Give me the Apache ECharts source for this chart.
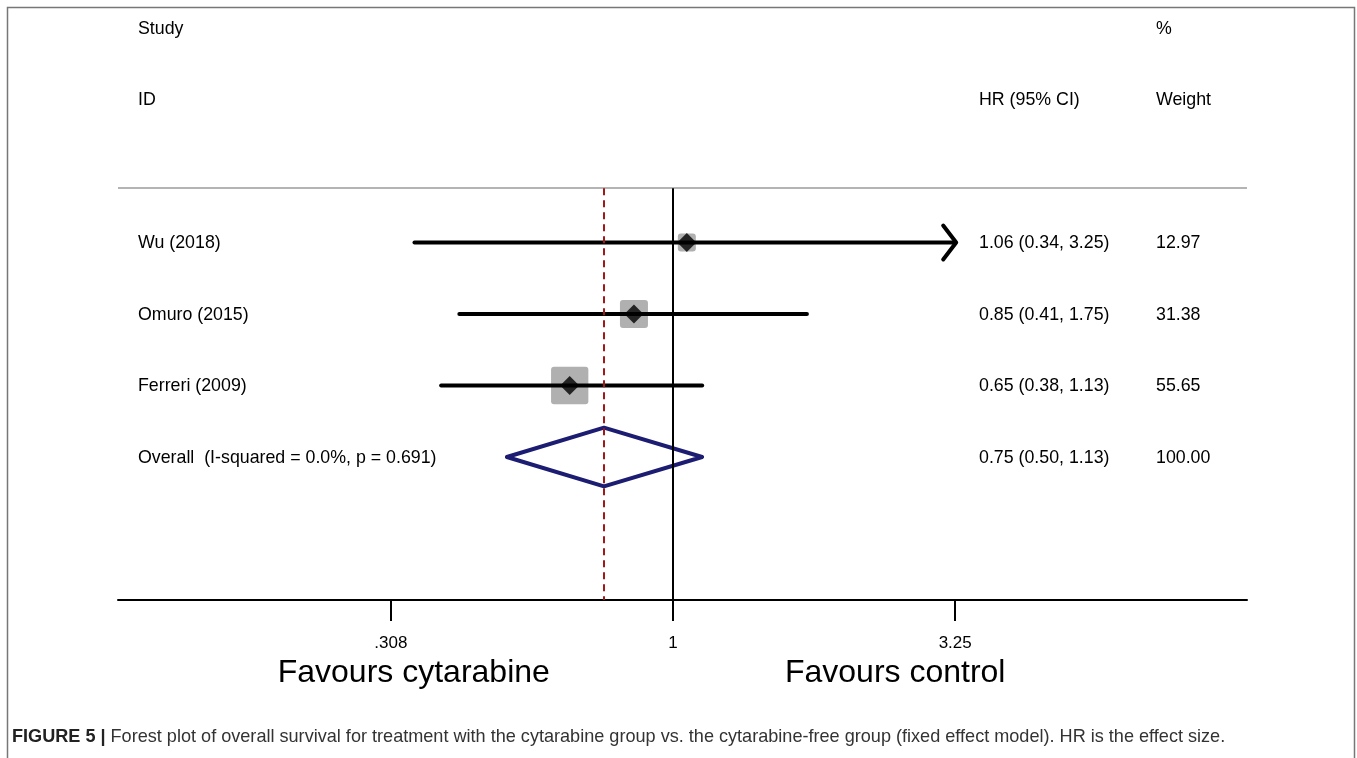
<!DOCTYPE html>
<html><head><meta charset="utf-8">
<script src="https://cdn.jsdelivr.net/npm/echarts@6/dist/echarts.min.js"></script>
<style>html,body{margin:0;padding:0;background:#fff}#c{width:1357px;height:758px}</style>
</head><body><div id="c"></div>
<script>
// ---- data ----
const studies = ['Wu (2018)', 'Omuro (2015)', 'Ferreri (2009)'];
const hr = [1.06, 0.85, 0.65];
const ciLow = [0.34, 0.41, 0.38];
const ciHigh = [3.25, 1.75, 1.13];
const weights = [12.97, 31.38, 55.65];
const overallLabel = 'Overall  (I-squared = 0.0%, p = 0.691)';
const overallHr = 0.75, overallLow = 0.50, overallHigh = 1.13, overallWeight = 100.00;
const tickValues = [0.308, 1, 3.25];
const tickLabels = ['.308', '1', '3.25'];
const axisRange = [0.0986, 10.99];
const favourLabels = ['Favours cytarabine', 'Favours control'];
const favourPos = [0.339, 2.53];
const caption = 'Forest plot of overall survival for treatment with the cytarabine group vs. the cytarabine-free group (fixed effect model). HR is the effect size.';

// ---- layout ----
const W = 1357, H = 758;
const grid = {left: 118, right: 110, top: 28, bottom: 158};
const nRows = 8, sepRow = 2.24;
const rowH = (H - grid.top - grid.bottom) / nRows;
const rowY = r => grid.top + r * rowH + 0.8;
const studyRows = [3, 4, 5], overallRow = 6;
const ln = Math.log;
const xMin = ln(axisRange[0]), xMax = ln(axisRange[1]);
const pxPerLn = (W - grid.left - grid.right) / (xMax - xMin);
const xPix = v => grid.left + (ln(v) - xMin) * pxPerLn;
const FONT = '"Liberation Sans", Arial, sans-serif';
const clipHigh = Math.max(...tickValues);

const fmt = (a, b, c) => a.toFixed(2) + ' (' + b.toFixed(2) + ', ' + c.toFixed(2) + ')';

const texts = [];
function txt(x, y, s, extra) {
  texts.push(Object.assign({type: 'text', x: x, y: y,
    style: {text: s, font: '17.8px ' + FONT, fill: '#000', verticalAlign: 'middle', align: 'left'}}, extra || {}));
}
const colStudy = 138, colHr = 979, colW = 1156;
txt(colStudy, rowY(0), 'Study');
txt(colStudy, rowY(1), 'ID');
txt(colW, rowY(0), '%');
txt(colHr, rowY(1), 'HR (95% CI)');
txt(colW, rowY(1), 'Weight');
studies.forEach((s, i) => {
  txt(colStudy, rowY(studyRows[i]), s);
  txt(colHr, rowY(studyRows[i]), fmt(hr[i], ciLow[i], ciHigh[i]));
  txt(colW, rowY(studyRows[i]), weights[i].toFixed(2));
});
txt(colStudy, rowY(overallRow), overallLabel);
txt(colHr, rowY(overallRow), fmt(overallHr, overallLow, overallHigh));
txt(colW, rowY(overallRow), overallWeight.toFixed(2));
favourLabels.forEach((s, i) => {
  texts.push({type: 'text', x: xPix(favourPos[i]), y: 673,
    style: {text: s, font: '32px ' + FONT, fill: '#000', align: 'center', verticalAlign: 'middle'}});
});
texts.push({type: 'text', x: 12, y: 737, style: {
  text: '{b|FIGURE 5 |} ' + caption, font: '18.1px ' + FONT, fill: '#333', verticalAlign: 'middle',
  rich: {b: {fontWeight: 'bold', fontSize: 18.1, fontFamily: FONT, fill: '#222'}}}});
texts.push({type: 'rect', shape: {x: 7.5, y: 7.5, width: 1347, height: 800},
  style: {fill: 'none', stroke: '#777', lineWidth: 1.5}, z: -1});

const ciData = studies.map((s, i) => [ln(ciLow[i]), ln(Math.min(ciHigh[i], clipHigh)), studyRows[i], ciHigh[i] >= clipHigh ? 1 : 0]);
const squareData = studies.map((s, i) => [ln(hr[i]), studyRows[i], weights[i]]);
const pointData = studies.map((s, i) => [ln(hr[i]), studyRows[i]]);

const chart = echarts.init(document.getElementById('c'), null, {renderer: 'canvas'});
chart.setOption({
  animation: false,
  backgroundColor: '#fff',
  grid: grid,
  xAxis: {
    type: 'value', min: xMin, max: xMax,
    splitLine: {show: false},
    axisLine: {show: true, onZero: false, lineStyle: {color: '#000', width: 2}},
    axisTick: {show: true, customValues: tickValues.map(ln), length: 21, lineStyle: {color: '#000', width: 2}},
    axisLabel: {show: true, customValues: tickValues.map(ln), margin: 35, fontSize: 17, fontFamily: FONT, color: '#000',
      formatter: v => { let k = 0, d = 1e9; tickValues.forEach((t, i) => { const dd = Math.abs(ln(t) - v); if (dd < d) { d = dd; k = i; } }); return tickLabels[k]; }}
  },
  yAxis: {type: 'value', min: 0, max: nRows, inverse: true, show: false},
  graphic: texts,
  series: [
    {type: 'scatter', data: [], silent: true,
      markLine: {silent: true, symbol: 'none', label: {show: false}, animation: false,
        data: [
          [{coord: [xMin, sepRow], lineStyle: {color: '#b4b4b4', width: 2, type: 'solid'}}, {coord: [xMax, sepRow]}],
          [{coord: [0, sepRow], lineStyle: {color: '#000', width: 2, type: 'solid'}}, {coord: [0, nRows]}],
          [{coord: [ln(overallHr), sepRow], lineStyle: {color: '#a01818', width: 2, type: [7, 5]}}, {coord: [ln(overallHr), nRows]}]
        ]}},
    {type: 'custom', z: 3, silent: true, data: squareData, encode: {x: 0, y: 1},
      renderItem: (params, api) => {
        const p = api.coord([api.value(0), api.value(1)]);
        const s = 5.0 * Math.sqrt(api.value(2));
        return {type: 'rect', shape: {x: p[0] - s / 2, y: p[1] - s / 2, width: s, height: s, r: 3}, style: {fill: '#b0b0b0'}};
      }},
    {type: 'custom', z: 4, silent: true, data: ciData, encode: {x: [0, 1], y: 2},
      renderItem: (params, api) => {
        const p1 = api.coord([api.value(0), api.value(2)]);
        const p2 = api.coord([api.value(1), api.value(2)]);
        const st = {stroke: '#000', lineWidth: 4, fill: 'none', lineCap: 'round', lineJoin: 'round'};
        const ch = [{type: 'line', shape: {x1: p1[0], y1: p1[1], x2: p2[0], y2: p2[1]}, style: st}];
        if (api.value(3)) ch.push({type: 'polyline', shape: {points: [[p2[0] - 12, p2[1] - 17], [p2[0] + 1, p2[1]], [p2[0] - 12, p2[1] + 17]]}, style: st});
        return {type: 'group', children: ch};
      }},
    {type: 'scatter', symbol: 'diamond', symbolSize: 19, data: pointData, itemStyle: {color: '#000'}, z: 5, silent: true},
    {type: 'custom', z: 4, silent: true, data: [[ln(overallLow), ln(overallHigh), ln(overallHr), overallRow]], encode: {x: [0, 1, 2], y: 3},
      renderItem: (params, api) => {
        const r = api.value(3), h = 0.41;
        const pts = [
          api.coord([api.value(0), r]), api.coord([api.value(2), r - h]),
          api.coord([api.value(1), r]), api.coord([api.value(2), r + h])];
        return {type: 'polygon', shape: {points: pts}, style: {fill: 'none', stroke: '#1c1c72', lineWidth: 4, lineJoin: 'round'}};
      }}
  ]
});
</script></body></html>
